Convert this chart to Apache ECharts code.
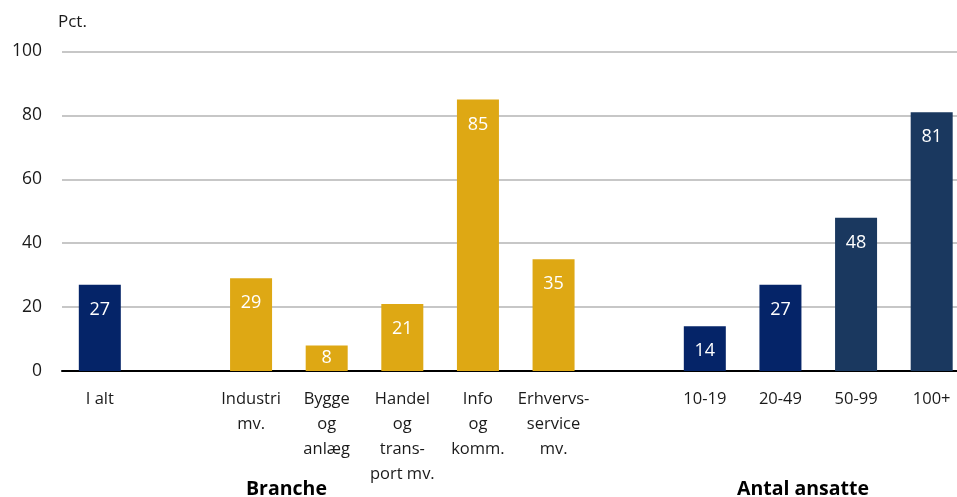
<!DOCTYPE html>
<html>
<head>
<meta charset="utf-8">
<script src="https://cdn.jsdelivr.net/npm/echarts@6/dist/echarts.min.js"></script>
<style>html,body{margin:0;padding:0;background:#fff;}#c{width:957px;height:497px;}</style>
</head>
<body>
<div id="c"></div>
<script>
const categories = ["I alt", " ", "Industri\nmv.", "Bygge\nog\nanlæg", "Handel\nog\ntrans-\nport mv.", "Info\nog\nkomm.", "Erhvervs-\nservice\nmv.", "  ", "10-19", "20-49", "50-99", "100+"];
const values = [27, null, 29, 8, 21, 85, 35, null, 14, 27, 48, 81];
const barColors = ["#052468", null, "#dea814", "#dea814", "#dea814", "#dea814", "#dea814", null, "#052468", "#052468", "#1a385f", "#1a385f"];
const yTicks = [0, 20, 40, 60, 80, 100];
const groupLabels = ["Branche", "Antal ansatte"];

const font = "'Open Sans', 'Noto Sans', sans-serif";
const chart = echarts.init(document.getElementById('c'), null, {renderer: 'canvas'});
chart.setOption({
  animation: false,
  grid: {left: 62, top: 51.5, height: 319.5, width: 907.5, containLabel: false, outerBoundsMode: 'none'},
  xAxis: {
    type: 'category',
    data: categories,
    axisTick: {show: false},
    axisLine: {lineStyle: {color: '#000', width: 2}},
    axisLabel: {color: '#1a1a1a', fontSize: 16.5, fontFamily: font, lineHeight: 25, margin: 16, interval: 0, align: 'center'}
  },
  yAxis: {
    type: 'value', min: yTicks[0], max: yTicks[yTicks.length - 1], interval: 20,
    name: 'Pct.', nameLocation: 'end', nameGap: 21,
    nameTextStyle: {color: '#1a1a1a', fontSize: 17, fontFamily: font, align: 'left', padding: [0, 0, 0, -4]},
    axisLine: {show: false}, axisTick: {show: false},
    axisLabel: {color: '#1a1a1a', fontSize: 17.5, fontFamily: font, margin: 20},
    splitLine: {lineStyle: {color: '#b4b4b4', width: 1.5}}
  },
  series: [{
    type: 'bar',
    barWidth: 42,
    data: values.map((v, i) => ({
      value: v,
      itemStyle: {color: barColors[i]},
      label: (v !== null && v < 12) ? {position: 'inside'} : undefined
    })),
    label: {show: true, position: 'insideTop', distance: 16, color: '#fff', fontSize: 18, fontFamily: font}
  }],
  graphic: [
    {type: 'text', left: 246, top: 479, style: {text: groupLabels[0], font: "bold 19.5px " + font, fill: '#000'}},
    {type: 'text', left: 737, top: 479, style: {text: groupLabels[1], font: "bold 19.5px " + font, fill: '#000'}}
  ]
});
</script>
</body>
</html>
